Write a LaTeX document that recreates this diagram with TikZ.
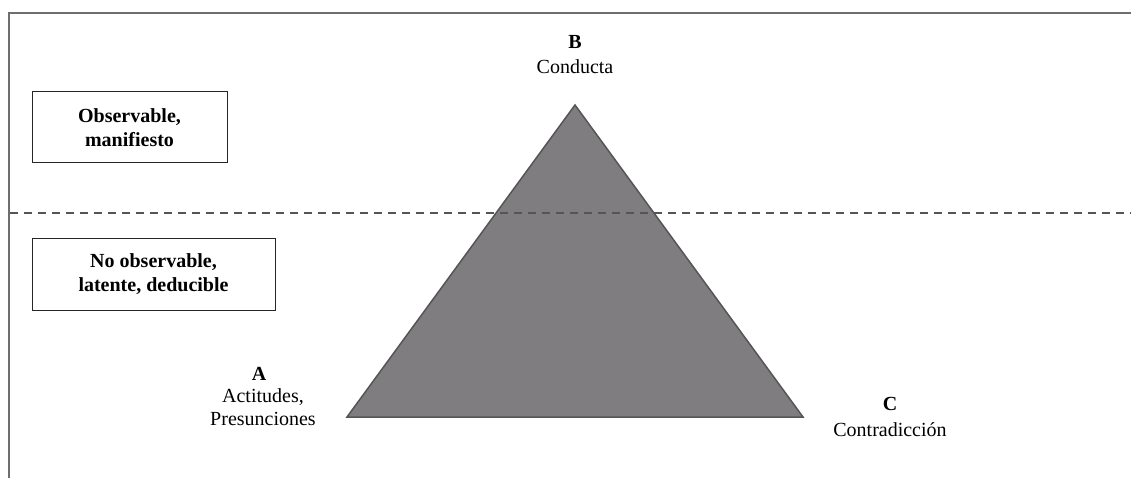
\documentclass[tikz,border=0pt]{standalone}
\usepackage{fontspec}
\setmainfont{Liberation Serif}
\definecolor{framegray}{HTML}{6E6E6E}
\definecolor{dashgray}{HTML}{555555}
\definecolor{trifill}{HTML}{807D80}
\definecolor{triline}{HTML}{555555}
\begin{document}
\begin{tikzpicture}[x=1pt,y=-1pt,
  lbl/.style={align=center,inner sep=0pt,font=\fontsize{20}{23}\selectfont},
  boldlbl/.style={lbl,font=\fontsize{20}{23}\selectfont\bfseries},
  boxlbl/.style={draw=black!85,line width=1pt,align=center,font=\fontsize{20}{24}\selectfont\bfseries,inner sep=0pt},
  frameline/.style={draw=framegray,line width=2.5pt},
  divider/.style={draw=dashgray,line width=2.5pt,dash pattern=on 8pt off 6pt}]
\useasboundingbox (0,0) rectangle (1131,478);
% frame
\coordinate (ftr) at (1131,13);
\coordinate (ftl) at (9,13);
\coordinate (fbl) at (9,478);
\draw[frameline] (ftr) -- (ftl) -- (fbl);
% triangle
\coordinate (tB) at (575,105);
\coordinate (tA) at (347,417);
\coordinate (tC) at (803,417);
\filldraw[fill=trifill,draw=triline,line width=1.5pt,line join=miter] (tA) -- (tB) -- (tC) -- cycle;
% dashed divider
\coordinate (dl) at (10,213);
\coordinate (dr) at (1131,213);
\draw[divider] (dl) -- (dr);
% boxes
\node[boxlbl,minimum width=195pt,minimum height=71pt] (obs) at (129.5,127.5) {Observable,\\manifiesto};
\node[boxlbl,minimum width=243pt,minimum height=72pt] (noobs) at (153.5,274) {No observable,\\latente, deducible};
% vertex labels
\node[boldlbl] (Blet) at (575,42) {B};
\node[lbl] (Btxt) at (575,67) {Conducta};
\node[boldlbl] (Alet) at (259,374) {A};
\node[lbl] (Atxt) at (263,407) {Actitudes,\\Presunciones};
\node[boldlbl] (Clet) at (890,404) {C};
\node[lbl] (Ctxt) at (890,430) {Contradicción};
\end{tikzpicture}
\end{document}
